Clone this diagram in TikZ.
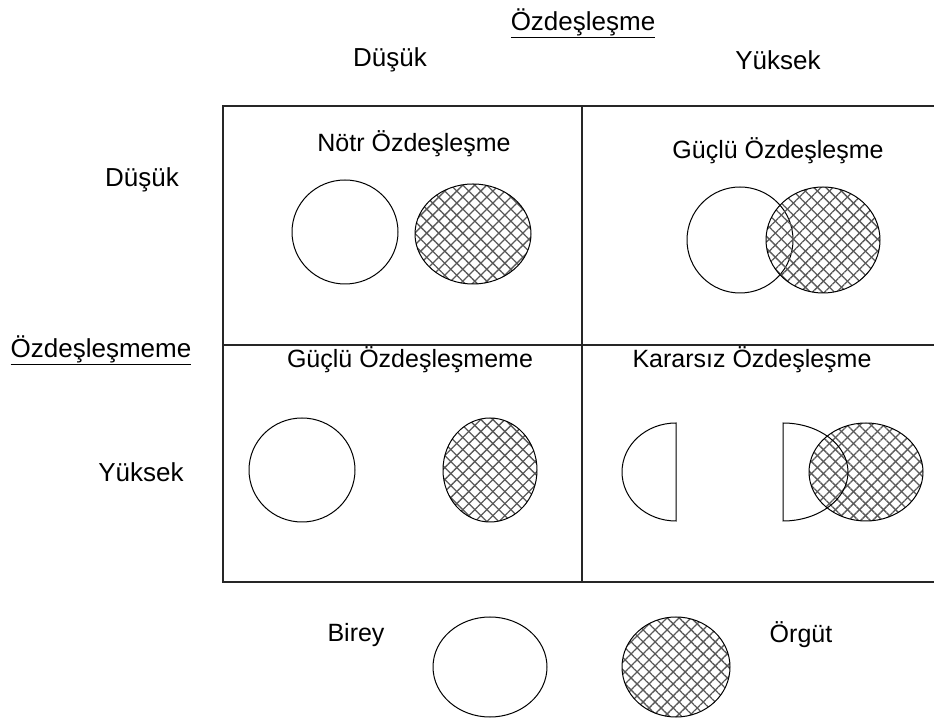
\documentclass[tikz,border=0pt]{standalone}
\usepackage{fontspec}
\setmainfont{Liberation Sans}
\usetikzlibrary{patterns.meta}

\tikzset{
  lbl/.style={inner sep=0pt,font=\fontsize{25}{30}\selectfont},
  axis lbl/.style={inner sep=0pt,font=\fontsize{26}{30}\selectfont},
  grid line/.style={line width=1.4pt,black!85},
  birey/.style={draw,line width=1pt},
  orgut/.style={draw,line width=1pt,
    preaction={pattern={Lines[angle=45,distance=8.5pt,line width=1.3pt]},pattern color=black!65},
    pattern={Lines[angle=-45,distance=8.5pt,line width=1.3pt]},pattern color=black!65}
}

\begin{document}
\begin{tikzpicture}[x=1pt,y=1pt]
 \useasboundingbox (0,0) rectangle (934,720);
 % the four cells
 \draw[grid line] (934,614) -- (223,614) -- (223,138) -- (934,138);
 \draw[grid line] (223,375) -- (934,375);
 \draw[grid line] (582,614) -- (582,138);
 % axis labels
 \node[axis lbl] (ust) at (583,697) {\underline{Özdeşleşme}};
 \node[axis lbl] (ustD) at (390,660) {Düşük};
 \node[axis lbl] (ustY) at (778,660) {Yüksek};
 \node[axis lbl] (solD) at (142,540) {Düşük};
 \node[axis lbl] (sol) at (101,370) {\underline{Özdeşleşmeme}};
 \node[axis lbl] (solY) at (141,248) {Yüksek};
 % cell titles
 \node[lbl] (notr) at (414,576) {Nötr Özdeşleşme};
 \node[lbl] (guclu) at (778,569) {Güçlü Özdeşleşme};
 \node[lbl] (gucluM) at (410,360) {Güçlü Özdeşleşmeme};
 \node[lbl] (karar) at (752,360) {Kararsız Özdeşleşme};
 % Nötr
 \draw[birey] (345,488) ellipse [x radius=53,y radius=52];
 \draw[orgut] (473,486) ellipse [x radius=58,y radius=50];
 % Güçlü Özdeşleşme
 \draw[birey] (740,480) ellipse [x radius=53,y radius=53];
 \draw[orgut] (823,480) ellipse [x radius=57,y radius=53];
 % Güçlü Özdeşleşmeme
 \draw[birey] (302,250) ellipse [x radius=53,y radius=52];
 \draw[orgut] (490,250) ellipse [x radius=47,y radius=52];
 % Kararsız
 \draw[birey] (676,297) arc[start angle=90,end angle=270,x radius=54,y radius=49] -- cycle;
 \draw[orgut] (866,248) ellipse [x radius=57,y radius=49];
 \draw[birey] (783,199) arc[start angle=-90,end angle=90,x radius=65,y radius=49] -- cycle;
 % legend
 \node[lbl] (birey) at (356,85) {Birey};
 \node[lbl] (orgut) at (801,85) {Örgüt};
 \draw[birey] (490,53) ellipse [x radius=57,y radius=50];
 \draw[orgut] (676,53) ellipse [x radius=54,y radius=50];
\end{tikzpicture}
\end{document}
